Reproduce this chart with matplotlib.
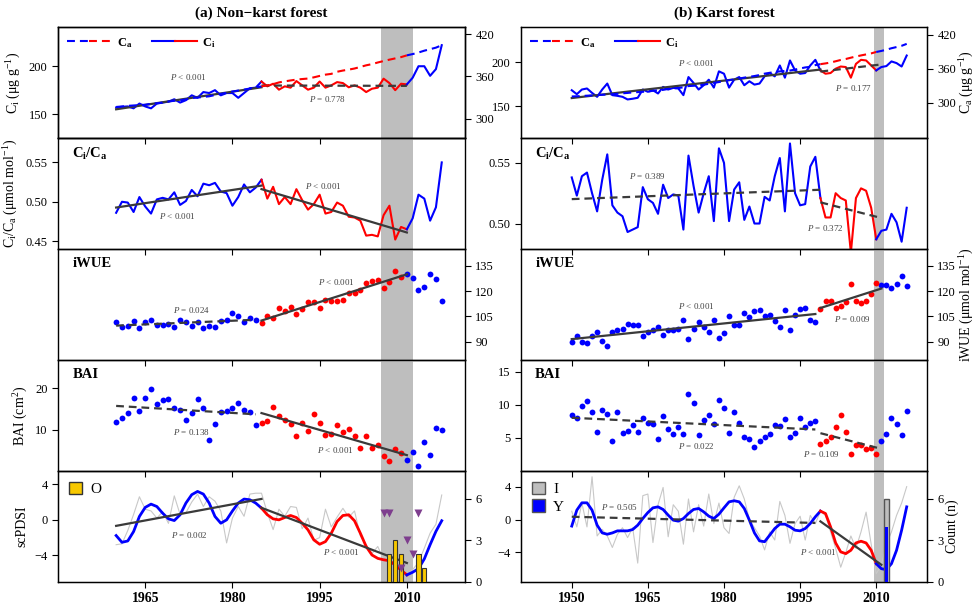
import numpy as np
import matplotlib
matplotlib.use("Agg")
import matplotlib.pyplot as plt
from matplotlib.lines import Line2D
from matplotlib.patches import Patch
from matplotlib.legend_handler import HandlerTuple
from matplotlib.ticker import FormatStrFormatter

plt.rcParams['font.family'] = ['Liberation Serif', 'DejaVu Serif']
plt.rcParams['mathtext.fontset'] = 'custom'
plt.rcParams['mathtext.rm'] = 'Liberation Serif'
plt.rcParams['mathtext.it'] = 'Liberation Serif:italic'
plt.rcParams['mathtext.bf'] = 'Liberation Serif:bold'

# ---------------- data ----------------
years_a = np.arange(1960, 2017)   # non-karst
years_b = np.arange(1950, 2017)   # karst
years_co2 = np.arange(1950, 2017)

co2 = np.array([
    311.3, 311.7, 312.2, 312.7, 313.2, 313.7, 314.3, 314.8, 315.3, 316.0,
    316.9, 317.6, 318.5, 319.0, 319.6, 320.0, 321.4, 322.2, 323.0, 324.6,
    325.7, 326.3, 327.5, 329.7, 330.2, 331.1, 332.0, 333.8, 335.4, 336.8,
    338.7, 340.1, 341.4, 343.0, 344.6, 346.0, 347.4, 349.2, 351.6, 353.1,
    354.4, 355.6, 356.4, 357.1, 358.8, 360.8, 362.6, 363.7, 366.7, 368.4,
    369.7, 371.3, 373.5, 375.8, 377.5, 379.8, 381.9, 383.8, 385.6, 387.4,
    389.9, 391.7, 393.9, 396.5, 398.6, 400.8, 404.2])

ci_a = np.array([
    156.9, 157.6, 158.0, 156.0, 161.0, 158.0, 156.0, 161.0, 162.0, 163.0,
    165.5, 162.0, 164.5, 169.6, 167.0, 173.0, 172.0, 175.0, 169.6, 172.0,
    172.0, 167.0, 172.0, 177.0, 177.6, 184.0, 179.0, 181.7, 175.5, 179.0,
    177.6, 184.5, 180.0, 175.5, 177.6, 184.0, 177.6, 180.0, 183.4, 182.4,
    178.0, 180.0, 177.6, 173.0, 176.5, 177.6, 187.0, 182.4, 175.0, 181.7,
    181.0, 188.0, 200.0, 200.0, 190.0, 197.0, 222.0])

cica_a = np.array([
    0.486, 0.500, 0.499, 0.487, 0.506, 0.494, 0.485, 0.503, 0.505, 0.503,
    0.512, 0.496, 0.501, 0.515, 0.507, 0.523, 0.521, 0.524, 0.513, 0.511,
    0.495, 0.506, 0.522, 0.512, 0.518, 0.528, 0.504, 0.519, 0.497, 0.506,
    0.497, 0.516, 0.502, 0.490, 0.497, 0.509, 0.485, 0.487, 0.499, 0.495,
    0.481, 0.480, 0.476, 0.457, 0.458, 0.456, 0.483, 0.495, 0.452, 0.468,
    0.465, 0.479, 0.509, 0.504, 0.476, 0.493, 0.550])

iwue_a = np.array([
    101.5, 98.9, 99.1, 101.9, 98.3, 101.3, 103.0, 99.9, 99.9, 100.3,
    98.9, 102.6, 101.5, 99.3, 101.5, 98.3, 99.1, 98.9, 101.9, 103.0,
    106.8, 105.0, 101.5, 104.2, 103.0, 100.9, 105.0, 103.8, 109.7, 108.3,
    110.3, 106.4, 109.3, 113.3, 113.3, 109.9, 114.8, 114.2, 113.8, 114.8,
    118.6, 118.8, 120.5, 125.0, 126.0, 126.6, 121.7, 125.6, 131.9, 128.6,
    130.3, 127.6, 120.7, 122.5, 130.3, 127.0, 113.8])

bai_a = np.array([
    11.8, 12.7, 14.1, 17.7, 14.5, 17.7, 19.9, 16.1, 17.1, 17.3,
    15.3, 14.7, 12.3, 14.1, 17.3, 15.3, 7.6, 11.4, 14.2, 14.6,
    15.3, 16.3, 14.7, 14.3, 11.2, 11.6, 12.0, 15.4, 13.3, 12.2,
    11.4, 8.4, 11.6, 9.6, 13.7, 11.6, 8.6, 8.9, 11.1, 9.4,
    10.2, 8.4, 5.5, 8.5, 5.5, 6.3, 3.7, 2.4, 5.3, 4.3,
    2.7, 4.7, 1.2, 7.0, 3.9, 10.4, 9.8])

pdsi_smooth_a = np.array([
    -1.77, -2.53, -2.38, -1.32, 0.38, 1.40, 1.77, 1.50, 0.75, 0.11,
    -0.08, 0.57, 1.89, 2.83, 3.20, 2.90, 1.89, 0.38, -0.38, 0.00,
    1.00, 1.89, 2.34, 2.26, 1.89, 1.32, 0.57, 0.11, 0.00, 0.26,
    0.49, 0.26, -0.38, -1.13, -2.26, -2.75, -2.45, -1.51, -0.19, 0.49,
    0.57, -0.11, -1.51, -3.00, -3.96, -4.34, -4.50, -4.60, -5.10, -5.66,
    -6.20, -5.90, -5.50, -4.40, -2.80, -1.30, -0.10])

pdsi_raw_a = np.array([
    -2.8, -2.7, -1.2, 0.6, 2.6, 1.2, 1.0, 0.2, 0.9, -0.4,
    2.7, 0.6, 0.8, 2.0, 2.9, 1.5, 2.6, 2.1, 1.0, -2.6,
    0.2, 1.5, 0.4, 2.9, 3.0, 3.0, 0.8, -1.1, 1.2, 0.4,
    1.5, 1.4, -1.0, 0.2, -2.3, -2.0, 1.2, -0.8, 0.3, 1.3,
    0.3, 1.0, -1.8, -2.8, -3.8, -3.0, -4.5, -4.3, -5.2, -5.5,
    -6.3, -5.6, -4.8, -3.2, -1.5, -0.5, 2.8])

ci_b = np.array([
    168.0, 163.5, 168.8, 170.0, 165.0, 160.5, 168.8, 175.6, 162.4, 161.6,
    160.5, 157.5, 158.3, 159.4, 168.8, 166.2, 168.0, 164.3, 171.8, 168.8,
    170.7, 170.0, 162.4, 183.0, 176.3, 168.8, 173.7, 180.0, 171.0, 189.5,
    186.8, 171.0, 180.0, 183.0, 173.7, 178.2, 174.4, 175.6, 183.8, 187.6,
    183.8, 196.2, 182.3, 201.9, 190.6, 186.8, 187.6, 196.2, 202.6, 190.6,
    186.8, 187.6, 192.5, 195.0, 194.4, 182.3, 198.0, 202.6, 201.9, 196.2,
    190.6, 194.4, 195.5, 200.8, 198.9, 195.0, 207.5])

cica_b = np.array([
    0.538, 0.523, 0.539, 0.542, 0.525, 0.510, 0.536, 0.557, 0.515, 0.509,
    0.506, 0.493, 0.495, 0.497, 0.530, 0.520, 0.517, 0.508, 0.532, 0.521,
    0.524, 0.523, 0.495, 0.556, 0.531, 0.509, 0.525, 0.539, 0.502, 0.562,
    0.550, 0.502, 0.528, 0.534, 0.503, 0.514, 0.500, 0.500, 0.522, 0.519,
    0.539, 0.554, 0.510, 0.566, 0.525, 0.515, 0.516, 0.547, 0.555, 0.521,
    0.505, 0.505, 0.525, 0.521, 0.519, 0.476, 0.521, 0.529, 0.527, 0.513,
    0.487, 0.494, 0.495, 0.508, 0.501, 0.485, 0.513])

iwue_b = np.array([
    89.7, 93.0, 89.7, 89.1, 93.0, 95.6, 90.5, 87.1, 95.6, 96.6,
    97.5, 100.5, 100.1, 99.9, 93.2, 95.6, 96.6, 98.9, 94.0, 96.6,
    96.6, 97.5, 103.0, 91.2, 97.5, 101.5, 98.5, 95.6, 102.8, 92.0,
    95.0, 105.4, 99.9, 99.9, 107.0, 104.8, 108.3, 108.9, 105.0, 106.0,
    102.0, 98.9, 108.9, 96.6, 105.8, 109.3, 109.7, 103.0, 101.5, 109.3,
    113.8, 114.2, 109.7, 111.3, 113.6, 124.0, 114.2, 112.9, 114.2, 118.2,
    125.0, 123.7, 123.7, 121.7, 124.4, 129.0, 123.0])

bai_b = np.array([
    8.5, 8.0, 9.8, 10.6, 8.9, 5.9, 9.3, 8.6, 4.5, 9.0,
    5.8, 6.1, 7.0, 5.9, 8.0, 7.2, 7.1, 4.8, 8.4, 6.3,
    5.6, 6.7, 5.6, 11.6, 10.3, 5.5, 7.7, 8.5, 7.1, 10.8,
    9.5, 5.8, 9.0, 7.2, 5.1, 4.9, 3.6, 4.5, 5.1, 5.6,
    7.0, 6.8, 7.9, 5.2, 5.7, 8.0, 6.6, 7.2, 7.5, 4.1,
    4.6, 5.2, 6.6, 8.5, 5.9, 2.5, 3.9, 3.9, 3.3, 3.5,
    2.5, 4.5, 5.6, 8.0, 7.1, 5.4, 9.1])

pdsi_smooth_b = np.array([
    -0.80, 1.14, 2.03, 2.03, 1.14, -0.69, -1.63, -1.79, -1.63, -1.38,
    -1.38, -1.38, -1.22, -0.69, 0.12, 0.85, 1.42, 1.54, 1.22, 0.53,
    -0.08, -0.20, 0.12, 0.73, 1.22, 1.34, 0.93, 0.41, 0.12, 0.65,
    1.42, 2.15, 2.28, 2.15, 1.34, -0.08, -1.63, -2.60, -2.70, -1.91,
    -1.10, -0.57, -0.57, -0.89, -1.30, -1.38, -1.10, -0.49, 0.33, 1.02,
    0.73, -0.89, -2.85, -3.94, -4.15, -3.74, -2.85, -2.64, -2.85, -3.74,
    -5.37, -5.98, -6.10, -5.37, -3.74, -1.30, 1.54])

pdsi_raw_b = np.array([
    1.0, -0.9, 2.0, -0.9, 5.2, -2.0, -1.2, -2.0, -3.4, -1.8,
    -1.0, -2.2, -1.0, -5.3, 2.9, 3.1, -2.8, 1.8, 3.9, -2.1,
    1.8, 1.0, -3.0, 2.5, -1.5, 1.8, -0.8, 3.1, -0.5, 2.0,
    -1.0, -1.7, 2.7, 4.1, 2.5, 0.0, -1.0, -2.0, -3.7, -1.5,
    -2.5, 2.2, 0.5, -2.9, -0.5, 0.4, -2.5, 0.5, -0.5, 1.0,
    0.5, -1.5, -3.5, -5.8, -4.0, -2.0, -3.5, -1.5, 0.9, -3.0,
    -6.6, -5.5, -3.0, -1.5, 0.5, 2.0, 4.0])

# counts (bottom panels)
o_years = [2007, 2008, 2009, 2012, 2013]
o_counts = [2, 3, 2, 2, 1]
tri_years = [2006, 2007, 2009, 2010, 2011, 2012]
tri_counts = [5, 5, 1, 3, 2, 5]
i_years = [2012]
i_counts = [6]
y_years = [2012]
y_counts = [4]

# ---------------- style ----------------
BLUE, RED = '#0000FF', '#FF0000'
SHADE = '#BEBEBE'
TREND = '#3A3A3A'
fs_tick, fs_lab = 9, 10

fig = plt.figure(figsize=(9.78, 6.06), dpi=100)
W, H = 978.0, 606.0
top_px, bot_px = 27, 582
ph = (bot_px - top_px) / 5.0
cols = {'a': (58, 465), 'b': (521, 927)}


def make_axes(col):
    x0, x1 = cols[col]
    axs = []
    for i in range(5):
        y_bot = top_px + (i + 1) * ph
        ax = fig.add_axes([x0 / W, 1 - y_bot / H, (x1 - x0) / W, ph / H])
        ax.set_facecolor('none')
        axs.append(ax)
    return axs


def segments(ax, yrs, vals, b0, b1, **kw):
    for m, c in (((yrs <= b0), BLUE), ((yrs >= b0) & (yrs <= b1), RED), ((yrs >= b1), BLUE)):
        ax.plot(yrs[m], vals[m], color=c, **kw)


def dots(ax, yrs, vals, r0, r1):
    red = (yrs >= r0) & (yrs <= r1)
    ax.plot(yrs[~red], vals[~red], 'o', color=BLUE, ms=4.2, mec='none', zorder=2)
    ax.plot(yrs[red], vals[red], 'o', color=RED, ms=4.2, mec='none', zorder=2)


def trends(ax, yrs, vals, ranges, styles):
    for (lo, hi), ls in zip(ranges, styles):
        m = (yrs >= lo) & (yrs <= hi)
        p = np.polyfit(yrs[m], vals[m], 1)
        xx = np.array([lo, hi])
        ln, = ax.plot(xx, np.polyval(p, xx), color=TREND, lw=1.6, zorder=4)
        if ls == '--':
            ln.set_dashes((3.5, 2.2))


def ptexts(ax, items):
    for x, y, s in items:
        ax.text(x, y, s, fontsize=6.5, color='#444444', ha='center', va='center')


def inner(ax, s):
    ax.text(0.035, 0.93, s, transform=ax.transAxes, fontsize=10.5,
            fontweight='bold', va='top', ha='left')


def common(axs, xlim, xticks, span):
    for k, ax in enumerate(axs):
        ax.set_xlim(*xlim)
        ax.set_xticks(xticks)
        ax.axvspan(span[0], span[1], color=SHADE, lw=0, zorder=0)
        ax.tick_params(axis='both', direction='out', length=4, width=0.8,
                       labelsize=fs_tick)
        if k < 4:
            ax.tick_params(axis='x', labelbottom=False)
        else:
            for t in ax.get_xticklabels():
                t.set_fontweight('bold')
                t.set_fontsize(10)
        for s in ax.spines.values():
            s.set_linewidth(1.0)


def top_legend(ax):
    h_ca = (Line2D([], [], color=BLUE, lw=1.5, dashes=(3.8, 2.4)),
            Line2D([], [], color=RED, lw=1.5, dashes=(3.8, 2.4)))
    h_ci = (Line2D([], [], color=BLUE, lw=1.5), Line2D([], [], color=RED, lw=1.5))
    ax.legend([h_ca, h_ci], [r'$\mathbf{C_a}$', r'$\mathbf{C_i}$'], ncol=2,
              loc='upper left', frameon=False, fontsize=9,
              handler_map={tuple: HandlerTuple(ndivide=None, pad=0)},
              handlelength=3.6, handletextpad=0.4, columnspacing=1.6,
              borderaxespad=0.3)


co2_a = co2[years_co2 >= 1960]

# ================= (a) non-karst =================
A = make_axes('a')
common(A, (1950, 2020), [1965, 1980, 1995, 2010], (2005.5, 2011))
b0, b1 = 1985, 2010
tr_line = [(1960, 1985), (1985, 2010)]
tr_dot = [(1960, 1984), (1985, 2010)]

ax = A[0]
segments(ax, years_a, ci_a, b0, b1, lw=1.5, zorder=2)
trends(ax, years_a, ci_a, tr_line, ['-', '--'])
ax.set_ylim(125, 241)
ax.set_yticks([150, 200])
ax.set_ylabel(r'C$_\mathrm{i}$ (μg g$^{-1}$)', fontsize=fs_lab)
ptexts(ax, [(1972.5, 188.6, r'$P$ < 0.001'), (1996.3, 165.5, r'$P$ = 0.778')])
ax.set_title('(a) Non\u2212karst forest', fontsize=11, fontweight='bold', pad=7)
axt = ax.twinx()
for s in axt.spines.values():
    s.set_linewidth(1.0)
for m, c in (((years_a <= b0), BLUE), ((years_a >= b0) & (years_a <= b1), RED), ((years_a >= b1), BLUE)):
    axt.plot(years_a[m], co2_a[m], color=c, lw=1.5, dashes=(3.8, 2.4))
axt.set_ylim(273, 430)
axt.set_yticks([300, 360, 420])
axt.tick_params(direction='out', length=4, width=0.8, labelsize=fs_tick)
top_legend(ax)

ax = A[1]
segments(ax, years_a, cica_a, b0, b1, lw=1.5, zorder=2)
trends(ax, years_a, cica_a, tr_line, ['-', '-'])
ax.set_ylim(0.44, 0.581)
ax.set_yticks([0.45, 0.50, 0.55])
ax.yaxis.set_major_formatter(FormatStrFormatter('%.2f'))
ax.set_ylabel(r'C$_\mathrm{i}$/C$_\mathrm{a}$ (μmol mol$^{-1}$)', fontsize=fs_lab)
inner(ax, r'$\mathbf{C_i/C_a}$')
ptexts(ax, [(1970.5, 0.4817, r'$P$ < 0.001'), (1995.6, 0.520, r'$P$ < 0.001')])

ax = A[2]
dots(ax, years_a, iwue_a, 1985, 2009)
trends(ax, years_a, iwue_a, tr_dot, ['--', '-'])
ax.set_ylim(79, 145)
ax.yaxis.tick_right()
ax.set_yticks([90, 105, 120, 135])
inner(ax, 'iWUE')
ptexts(ax, [(1973, 108.7, r'$P$ = 0.024'), (1997.9, 125.4, r'$P$ < 0.001')])

ax = A[3]
dots(ax, years_a, bai_a, 1985, 2009)
trends(ax, years_a, bai_a, tr_dot, ['--', '-'])
ax.set_ylim(0, 26.8)
ax.set_yticks([10, 20])
ax.set_ylabel(r'BAI (cm$^{2}$)', fontsize=fs_lab)
inner(ax, 'BAI')
ptexts(ax, [(1973, 9.35, r'$P$ = 0.138'), (1997.8, 5.1, r'$P$ < 0.001')])

ax = A[4]
ax.plot(years_a, pdsi_raw_a, color='#C8C8C8', lw=0.8, zorder=1)
segments(ax, years_a, pdsi_smooth_a, b0, b1, lw=2, zorder=2)
trends(ax, years_a, pdsi_smooth_a, tr_line, ['-', '-'])
ax.set_ylim(-7, 5.5)
ax.set_yticks([-4, 0, 4])
ax.set_ylabel('scPDSI', fontsize=fs_lab)
ptexts(ax, [(1972.6, -1.72, r'$P$ = 0.002'), (1998.8, -3.63, r'$P$ < 0.001')])
axc = ax.twinx()
axc.bar(o_years, o_counts, width=0.7, color='#F7C800', edgecolor='#333333', lw=0.8, zorder=3)
axc.plot(tri_years, tri_counts, 'v', color='#7E3E8E', ms=6, mec='none', zorder=4)
axc.set_ylim(0, 8)
axc.set_yticks([0, 3, 6])
axc.tick_params(direction='out', length=4, width=0.8, labelsize=fs_tick)
ax.legend([Patch(facecolor='#F7C800', edgecolor='#333333')], ['O'], loc='upper left',
          frameon=False, fontsize=11, handlelength=0.9, handleheight=0.9,
          handletextpad=0.5, borderaxespad=0.3)

# ================= (b) karst =================
B = make_axes('b')
common(B, (1940, 2020), [1950, 1965, 1980, 1995, 2010], (2009.5, 2011.5))
b0, b1 = 1999, 2010
tr_line = [(1950, 1999), (1999, 2011)]
tr_dot = [(1950, 1998), (1999, 2011)]

ax = B[0]
segments(ax, years_b, ci_b, b0, b1, lw=1.5, zorder=2)
trends(ax, years_b, ci_b, tr_line, ['-', '--'])
ax.set_ylim(113.6, 240)
ax.set_yticks([150, 200])
ptexts(ax, [(1974.5, 198.9, r'$P$ < 0.001'), (2005.6, 170, r'$P$ = 0.177')])
ax.set_title('(b) Karst forest', fontsize=11, fontweight='bold', pad=7)
axt = ax.twinx()
for m, c in (((years_co2 <= b0), BLUE), ((years_co2 >= b0) & (years_co2 <= b1), RED), ((years_co2 >= b1), BLUE)):
    axt.plot(years_co2[m], co2[m], color=c, lw=1.5, dashes=(3.8, 2.4))
axt.set_ylim(238, 434)
axt.set_yticks([300, 360, 420])
axt.tick_params(direction='out', length=4, width=0.8, labelsize=fs_tick)
axt.set_ylabel(r'C$_\mathrm{a}$ (μg g$^{-1}$)', fontsize=fs_lab, labelpad=1)
top_legend(ax)

ax = B[1]
segments(ax, years_b, cica_b, b0, b1, lw=1.5, zorder=2)
trends(ax, years_b, cica_b, tr_line, ['--', '--'])
ax.set_ylim(0.479, 0.5705)
ax.set_yticks([0.50, 0.55])
ax.yaxis.set_major_formatter(FormatStrFormatter('%.2f'))
inner(ax, r'$\mathbf{C_i/C_a}$')
ptexts(ax, [(1965, 0.539, r'$P$ = 0.389'), (1999.9, 0.4959, r'$P$ = 0.372')])

ax = B[2]
dots(ax, years_b, iwue_b, 1999, 2010)
trends(ax, years_b, iwue_b, tr_dot, ['-', '-'])
ax.set_ylim(79, 145)
ax.yaxis.tick_right()
ax.yaxis.set_label_position('right')
ax.set_yticks([90, 105, 120, 135])
ax.set_ylabel(r'iWUE (μmol mol$^{-1}$)', fontsize=fs_lab, labelpad=1)
inner(ax, 'iWUE')
ptexts(ax, [(1974.5, 111.3, r'$P$ < 0.001'), (2005.4, 103.4, r'$P$ = 0.009')])

ax = B[3]
dots(ax, years_b, bai_b, 1999, 2010)
trends(ax, years_b, bai_b, tr_dot, ['--', '--'])
ax.set_ylim(0, 16.8)
ax.set_yticks([5, 10, 15])
inner(ax, 'BAI')
ptexts(ax, [(1974.5, 3.8, r'$P$ = 0.022'), (1999.2, 2.5, r'$P$ = 0.109')])

ax = B[4]
ax.plot(years_b, pdsi_raw_b, color='#C8C8C8', lw=0.8, zorder=1)
segments(ax, years_b, pdsi_smooth_b, b0, b1, lw=2, zorder=2)
trends(ax, years_b, pdsi_smooth_b, [(1950, 1998), (1999, 2011)], ['--', '-'])
ax.set_ylim(-7.6, 5.9)
ax.set_yticks([-4, 0, 4])
ptexts(ax, [(1959.5, 1.5, r'$P$ = 0.505'), (1998.7, -3.9, r'$P$ < 0.001')])
axc = ax.twinx()
axc.bar(i_years, i_counts, width=0.9, color='#BEBEBE', edgecolor='#555555', lw=1, zorder=3)
axc.bar(y_years, y_counts, width=0.45, color=BLUE, lw=0, zorder=4)
axc.set_ylim(0, 8)
axc.set_yticks([0, 3, 6])
axc.tick_params(direction='out', length=4, width=0.8, labelsize=fs_tick)
axc.set_ylabel('Count (n)', fontsize=fs_lab, labelpad=1)
ax.legend([Patch(facecolor='#BEBEBE', edgecolor='#555555'), Patch(facecolor=BLUE, edgecolor='#555555')],
          ['I', 'Y'], loc='upper left', frameon=False, fontsize=11,
          handlelength=0.9, handleheight=0.9, handletextpad=0.5,
          borderaxespad=0.3, labelspacing=0.2)

fig.savefig('out.png', dpi=100)
